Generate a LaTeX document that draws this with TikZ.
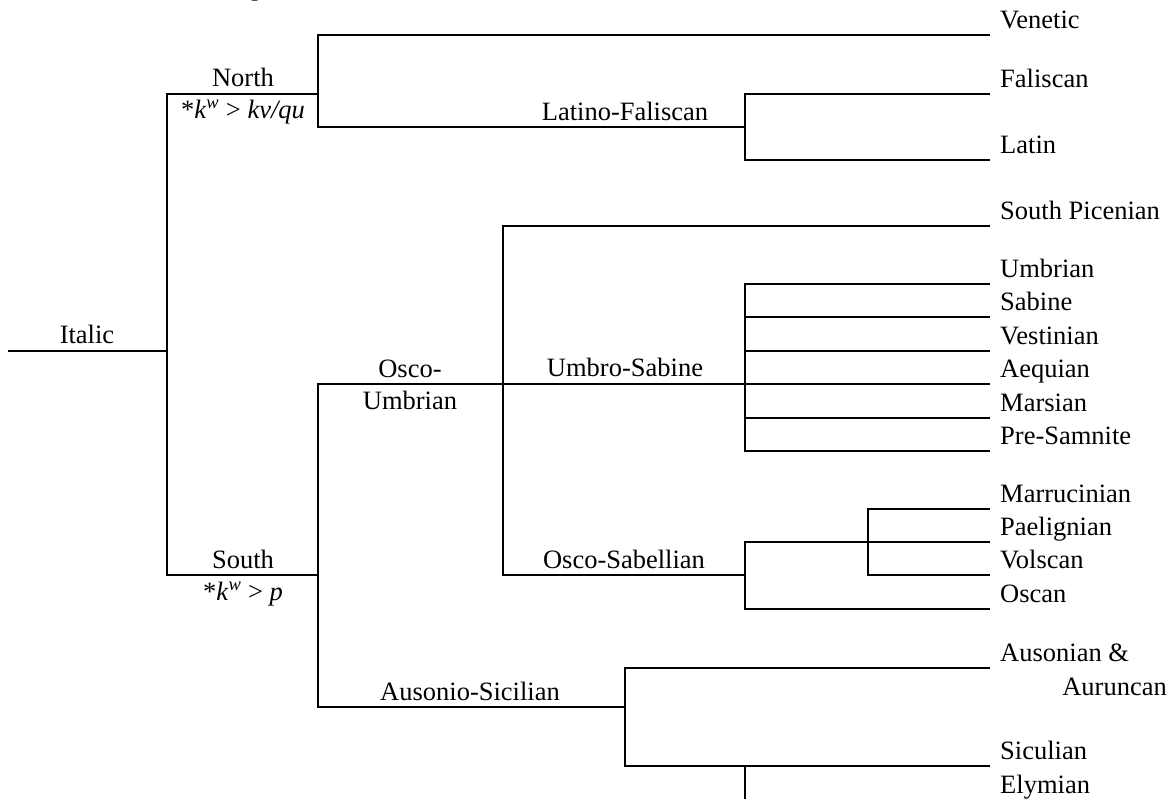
\documentclass[tikz,border=0pt]{standalone}
\usepackage{fontspec}
\setmainfont{Liberation Serif}
\begin{document}
\begin{tikzpicture}[x=1pt,y=-1pt,
  br/.style={line width=2.9pt, line join=miter},
  lbl/.style={font=\fontsize{26.5}{30}\selectfont, inner sep=0pt, anchor=base},
  leaf/.style={lbl, anchor=base west}]
\clip (0,0) rectangle (1169,798);
\fill[white] (0,0) rectangle (1169,798);
% junction coordinates
\coordinate (rootL) at (8,351);
\coordinate (j0) at (167,351);
\coordinate (nN) at (318,94);
\coordinate (nS) at (318,575);
\coordinate (lf) at (745,127);
\coordinate (ou) at (503,384);
\coordinate (us) at (745,384);
\coordinate (osb) at (745,575);
\coordinate (mpv) at (868,542);
\coordinate (as) at (625,707);
\coordinate (ely) at (745,766);
\coordinate (elyB) at (745,805);
% leaf ends
\coordinate (venE) at (990,35);
\coordinate (falE) at (990,94);
\coordinate (latE) at (990,160);
\coordinate (spE) at (990,226);
\coordinate (umbE) at (990,284);
\coordinate (sabE) at (990,317);
\coordinate (vesE) at (990,351);
\coordinate (aeqE) at (990,384);
\coordinate (marsE) at (990,418);
\coordinate (preE) at (990,451);
\coordinate (marrE) at (990,509);
\coordinate (paeE) at (990,542);
\coordinate (volE) at (990,575);
\coordinate (oscE) at (990,609);
\coordinate (ausE) at (990,668);
\coordinate (sicE) at (990,766);
% connectors
\draw[br] (rootL) -- (j0);
\draw[br] (j0) |- (nN);
\draw[br] (j0) |- (nS);
\draw[br] (nN) |- (venE);
\draw[br] (nN) |- (lf);
\draw[br] (lf) |- (falE);
\draw[br] (lf) |- (latE);
\draw[br] (nS) |- (ou);
\draw[br] (nS) |- (as);
\draw[br] (ou) |- (spE);
\draw[br] (ou) -- (us);
\draw[br] (ou) |- (osb);
\draw[br] (us) |- (umbE);
\draw[br] (us) |- (sabE);
\draw[br] (us) |- (vesE);
\draw[br] (us) -- (aeqE);
\draw[br] (us) |- (marsE);
\draw[br] (us) |- (preE);
\draw[br] (osb) |- (paeE);
\draw[br] (osb) |- (oscE);
\draw[br] (mpv) |- (marrE);
\draw[br] (mpv) |- (volE);
\draw[br] (as) |- (ausE);
\draw[br] (as) |- (sicE);
\draw[br] (ely) -- (elyB);
% internal labels
\node[lbl] (tp) at (258,-5) {p};
\node[lbl] (tItalic) at (87,343) {Italic};
\node[lbl] (tNorth) at (243,86) {North};
\node[lbl] (tNorthF) at (243,118) {*\textit{k}\textsuperscript{\textit{w}} > \textit{kv/qu}};
\node[lbl] (tSouth) at (243,568) {South};
\node[lbl] (tSouthF) at (243,600) {*\textit{k}\textsuperscript{\textit{w}} > \textit{p}};
\node[lbl] (tLF) at (625,120) {Latino-Faliscan};
\node[lbl] (tOsco) at (410,377) {Osco-};
\node[lbl] (tOscoU) at (410,409) {Umbrian};
\node[lbl] (tUS) at (625,376) {Umbro-Sabine};
\node[lbl] (tOS) at (624,568) {Osco-Sabellian};
\node[lbl] (tAS) at (470,700) {Ausonio-Sicilian};
% leaf labels
\node[leaf] (lVen) at (1000,28) {Venetic};
\node[leaf] (lFal) at (1000,87) {Faliscan};
\node[leaf] (lLat) at (1000,153) {Latin};
\node[leaf] (lSP) at (1000,219) {South Picenian};
\node[leaf] (lUmb) at (1000,277) {Umbrian};
\node[leaf] (lSab) at (1000,310) {Sabine};
\node[leaf] (lVes) at (1000,344) {Vestinian};
\node[leaf] (lAeq) at (1000,377) {Aequian};
\node[leaf] (lMars) at (1000,411) {Marsian};
\node[leaf] (lPre) at (1000,444) {Pre-Samnite};
\node[leaf] (lMarr) at (1000,502) {Marrucinian};
\node[leaf] (lPae) at (1000,535) {Paelignian};
\node[leaf] (lVol) at (1000,568) {Volscan};
\node[leaf] (lOsc) at (1000,602) {Oscan};
\node[leaf] (lAus) at (1000,661) {Ausonian \&};
\node[lbl, anchor=base east] (lAur) at (1167,695) {Auruncan};
\node[leaf] (lSic) at (1000,759) {Siculian};
\node[leaf] (lEly) at (1000,793) {Elymian};
\end{tikzpicture}
\end{document}
